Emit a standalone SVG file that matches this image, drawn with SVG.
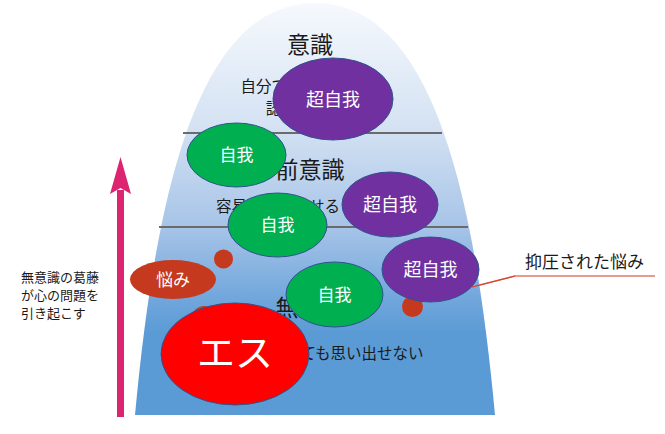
<svg xmlns="http://www.w3.org/2000/svg" width="665" height="434" viewBox="0 0 665 434">
<defs>
<linearGradient id="ice" gradientUnits="userSpaceOnUse" x1="0" y1="3" x2="0" y2="415">
<stop offset="0" stop-color="#f6f9fd"/>
<stop offset="0.3" stop-color="#d4e2f3"/>
<stop offset="0.55" stop-color="#a5c3e7"/>
<stop offset="0.72" stop-color="#70a6dc"/>
<stop offset="0.8" stop-color="#5b9bd5"/>
<stop offset="1" stop-color="#5b9bd5"/>
</linearGradient>
</defs>
<style>
text{font-family:"Noto Sans CJK JP","Noto Sans CJK SC",sans-serif}
.lab{fill:#1a1a1a;text-anchor:middle}
.big{font-size:23px}
.sm{font-size:15.5px}
.wt{fill:#fff;text-anchor:middle}
.ego{fill:#00b050;stroke:#2f528f;stroke-width:1}
.sup{fill:#7030a0;stroke:#2f528f;stroke-width:1}
.wor{fill:#c5391e}
.sep{stroke:#6b6b6b;stroke-width:2}
</style>
<g id="iceberg">
<path d="M135,415 C155,200 196,3 315,3 C434,3 475,200 495,415 Z" fill="url(#ice)"/>
<line class="sep" x1="183" y1="133" x2="442" y2="133"/>
<line class="sep" x1="159" y1="227" x2="468" y2="227"/>
<text class="lab big" x="310" y="53">意識</text>
<text class="lab sm" x="310" y="92">自分で気づいている</text>
<text class="lab sm" x="312" y="114">認識できる心</text>
<text class="lab big" x="310" y="178">前意識</text>
<text class="lab sm" x="278" y="212">容易に思い出せる</text>
<text class="lab big" x="310" y="316">無意識</text>
<text class="lab sm" x="308" y="359">思い出そうとしても思い出せない</text>
</g>
<g id="connectors">
<line x1="120.5" y1="417" x2="120.5" y2="190" stroke="#dc2470" stroke-width="7"/>
<path d="M120.5,157 L131,194 L120.5,188 L110,194 Z" fill="#dc2470"/>
<polyline points="472,287 515,276 655,276" fill="none" stroke="#e07a6c" stroke-width="1.5"/>
<line x1="472" y1="287" x2="515" y2="276" stroke="#d8412f" stroke-width="1.2"/>
</g>
<g id="label-conflict">
<text x="21" y="282" font-size="13" fill="#1a1a1a">無意識の葛藤</text>
<text x="21" y="300" font-size="13" fill="#1a1a1a">が心の問題を</text>
<text x="21" y="318" font-size="13" fill="#1a1a1a">引き起こす</text>
</g>
<g id="label-repressed">
<text x="525" y="268" font-size="17" fill="#1a1a1a">抑圧された悩み</text>
</g>
<g id="dot1"><circle class="wor" cx="223.5" cy="259" r="9.5"/></g>
<g id="dot2"><circle class="wor" cx="412.5" cy="306.5" r="10.5"/></g>
<g id="dot3"><circle class="wor" cx="204" cy="318" r="12"/></g>
<g id="superego1"><ellipse class="sup" cx="333" cy="99" rx="60" ry="41"/><text class="wt" x="333" y="105.5" font-size="18">超自我</text></g>
<g id="ego1"><ellipse class="ego" cx="236.5" cy="155" rx="49.5" ry="32"/><text class="wt" x="236.5" y="161" font-size="17">自我</text></g>
<g id="ego2"><ellipse class="ego" cx="277.5" cy="225" rx="49.5" ry="32"/><text class="wt" x="277.5" y="231" font-size="17">自我</text></g>
<g id="superego2"><ellipse class="sup" cx="390" cy="204.5" rx="48" ry="32.5"/><text class="wt" x="390" y="211" font-size="18">超自我</text></g>
<g id="superego3"><ellipse class="sup" cx="430.5" cy="269.5" rx="48.5" ry="32.5"/><text class="wt" x="430.5" y="276" font-size="18">超自我</text></g>
<g id="ego3"><ellipse class="ego" cx="334.5" cy="294.5" rx="48.5" ry="32.5"/><text class="wt" x="334.5" y="300.5" font-size="17">自我</text></g>
<g id="worry"><ellipse class="wor" cx="173" cy="279.5" rx="43" ry="19.5"/><text class="wt" x="173" y="285.5" font-size="17">悩み</text></g>
<g id="id"><ellipse cx="235" cy="354" rx="74" ry="51" fill="#ff0000" stroke="#2f528f" stroke-width="1"/><text class="wt" x="235" y="366" font-size="38">エス</text></g>
</svg>
